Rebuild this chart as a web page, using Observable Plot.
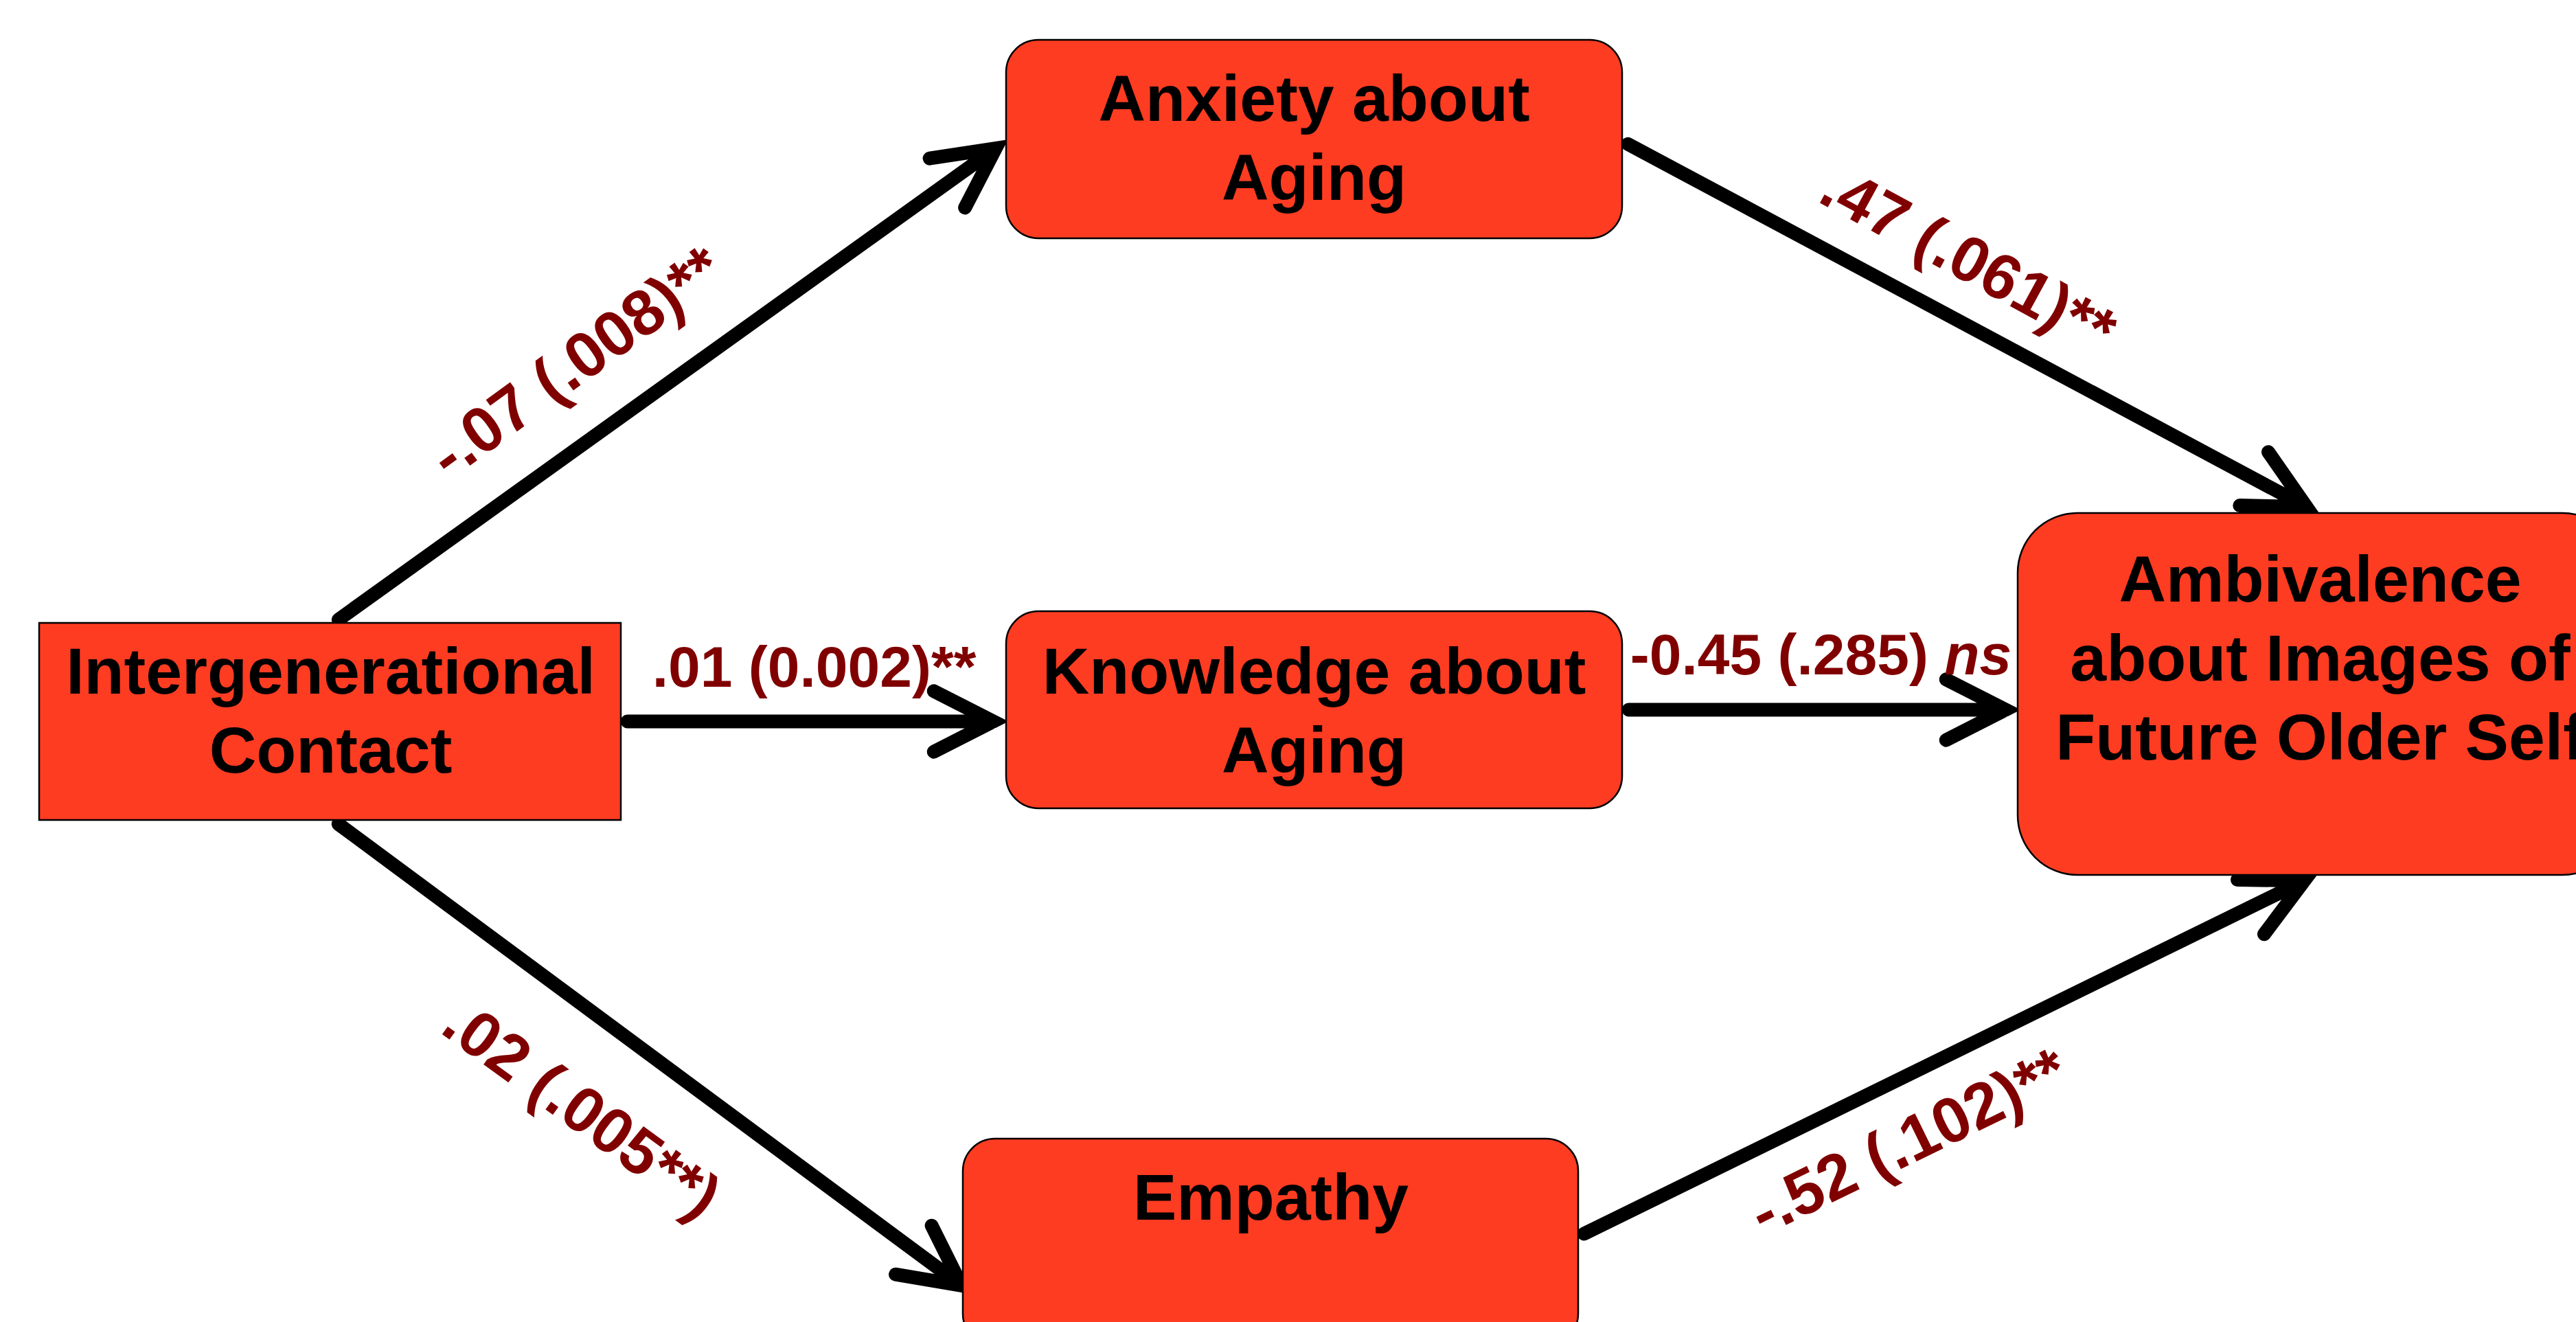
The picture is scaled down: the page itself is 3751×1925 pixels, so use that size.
<!DOCTYPE html>
<html>
<head>
<meta charset="utf-8">
<script src="https://cdn.jsdelivr.net/npm/d3@7"></script>
<script src="https://cdn.jsdelivr.net/npm/@observablehq/plot@0.6"></script>
<style>
html, body { margin: 0; padding: 0; background: #fff; overflow: hidden; }
#chart svg { display: block; max-width: none; }
</style>
</head>
<body>
<div id="chart"></div>
<script>
// ---- Data: path model ----
const nodes = [
  "Intergenerational\nContact",
  "Anxiety about\nAging",
  "Knowledge about\nAging",
  "Empathy",
  "Ambivalence\nabout Images of\nFuture Older Self"
];
const pathFrom = [0, 0, 0, 1, 2, 3];
const pathTo   = [1, 2, 3, 4, 4, 4];
const coefficients   = ["-.07", ".01", ".02", ".47", "-0.45", "-.52"];
const standardErrors = ["(.008)**", "(0.002)**", "(.005**)", "(.061)**", "(.285) ns", "(.102)**"];

// ---- Layout (pixel space of the diagram) ----
const W = 3751, H = 1925;
const boxX1 = [57, 1465, 1465, 1402, 2938];
const boxX2 = [904, 2362, 2362, 2298, 3818];
const boxY1 = [907, 58, 890, 1658, 747];
const boxY2 = [1194, 347, 1177, 1960, 1274];
const boxR  = [0, 47, 47, 47, 87];
const textX = [481, 1913, 1913, 1850, 3378];
const textY = [1030, 196, 1030, 1739, 954];

const arrowX1 = [485, 904, 485, 2362, 2362, 2298];
const arrowY1 = [907, 1050, 1194, 205, 1033, 1800];
const arrowX2 = [1464, 1464, 1414, 3374, 2938, 3371];
const arrowY2 = [205, 1050, 1882, 746, 1033, 1274];

const labelX = [839, 1185, 846, 2865, 2651, 2779];
const labelY = [528, 973, 1616, 378, 955, 1663];
const labelRotate = [-36, 0, 36, 28.5, 0, -26];
const labelSize = [93, 84, 93, 93, 84, 93];

const boxes = nodes.map((name, i) => ({
  name, x1: boxX1[i], x2: boxX2[i], y1: boxY1[i], y2: boxY2[i], r: boxR[i], tx: textX[i], ty: textY[i]
}));
const paths = pathFrom.map((f, i) => ({
  from: nodes[f], to: nodes[pathTo[i]],
  x1: arrowX1[i], y1: arrowY1[i], x2: arrowX2[i], y2: arrowY2[i],
  label: coefficients[i] + " " + standardErrors[i],
  lx: labelX[i], ly: labelY[i], rot: labelRotate[i], size: labelSize[i]
}));

const FILL = "#fd3c22";
const FONT = "'Liberation Sans', Arial, Helvetica, sans-serif";

const marks = [];
// arrows
marks.push(Plot.arrow(paths, {
  x1: "x1", y1: "y1", x2: "x2", y2: "y2",
  stroke: "#000", strokeWidth: 20,
  headLength: 7.3, headAngle: 54,
  insetStart: 9, insetEnd: 18,
  strokeLinecap: "round", strokeLinejoin: "miter", strokeMiterlimit: 6
}));
// boxes (one mark per box so each can carry its own corner radius)
boxes.forEach(b => {
  marks.push(Plot.rect([b], {
    x1: "x1", x2: "x2", y1: "y1", y2: "y2",
    fill: FILL, stroke: "#000", strokeWidth: 2.5,
    rx: b.r, ry: b.r
  }));
});
// box labels
marks.push(Plot.text(boxes, {
  x: "tx", y: "ty", text: "name",
  fontSize: 95, fontWeight: "bold", lineHeight: 1.21,
  fill: "#000", textAnchor: "middle", lineAnchor: "middle", fontFamily: FONT
}));
// path coefficient labels
paths.forEach(p => {
  marks.push(Plot.text([p], {
    x: "lx", y: "ly", text: "label", rotate: p.rot,
    fontSize: p.size, fontWeight: "bold", fill: "#800000",
    textAnchor: "middle", lineAnchor: "middle", fontFamily: FONT
  }));
});

const chart = Plot.plot({
  width: W, height: H,
  margin: 0,
  x: {domain: [0, W], range: [0, W], axis: null},
  y: {domain: [0, H], range: [0, H], axis: null},
  style: {background: "#fff", fontFamily: FONT, overflow: "hidden"},
  marks
});

// italic "ns"
chart.querySelectorAll("text").forEach(t => {
  if (t.childElementCount === 0 && t.textContent.endsWith(" ns")) {
    const base = t.textContent.slice(0, -2);
    t.textContent = base;
    const ts = document.createElementNS("http://www.w3.org/2000/svg", "tspan");
    ts.setAttribute("font-style", "italic");
    ts.textContent = "ns";
    t.appendChild(ts);
  }
});

document.getElementById("chart").appendChild(chart);
</script>
</body>
</html>
